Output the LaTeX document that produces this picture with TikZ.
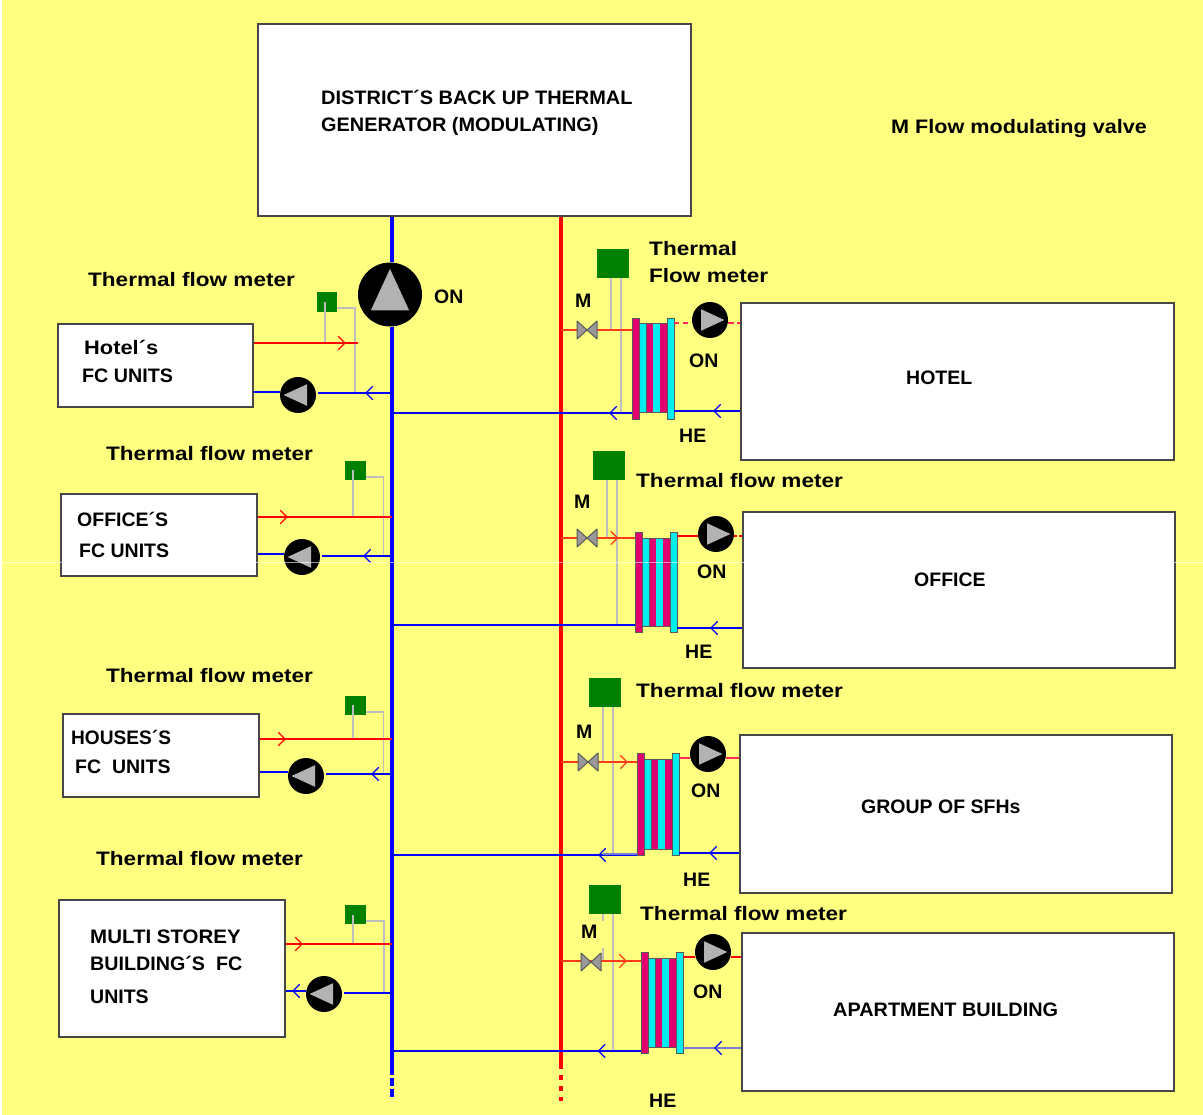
\documentclass[tikz,border=0pt]{standalone}
\usepackage{graphicx}
\usepackage{fontspec}
\setmainfont{Liberation Sans}
\definecolor{bgyellow}{HTML}{FFFF80}
\definecolor{hemag}{HTML}{E0006E}
\definecolor{hecya}{HTML}{00EEEE}
\definecolor{metergreen}{HTML}{008000}
\definecolor{wiregray}{HTML}{BEBEBE}
\definecolor{hotline}{HTML}{FF3A1A}
\definecolor{pinkline}{HTML}{FF2A5A}
\definecolor{mixline}{HTML}{7A7AD8}
\tikzset{
  unitbox/.style={draw=black!72,line width=1.4pt,fill=white,rectangle,inner sep=0pt},
  lbl/.style={anchor=base west,inner sep=0pt,font=\fontsize{19.5}{20}\selectfont\bfseries,text=black},
  pumpn/.style={circle,fill=black,inner sep=0pt,draw=none},
  pumptri/.style={fill=black!30},
  meter/.style={rectangle,fill=metergreen,inner sep=0pt,draw=none},
  wire/.style={draw=wiregray,line width=1.5pt},
  cold/.style={draw=blue,line width=2.1pt},
  hot/.style={draw=red,line width=1.9pt},
  hotv/.style={draw=hotline,line width=2pt},
  pinkdash/.style={draw=pinkline,line width=1.8pt},
  mixed/.style={draw=mixline,line width=2.8pt},
  bus/.style={line width=3.2pt},
  chevron/.style={line width=1.2pt,line cap=round},
  plate/.style={rectangle,inner sep=0pt,draw=black!65,line width=.8pt},
  valvetri/.style={fill=black!40,draw=black!65,line width=1pt,line join=round},
}
% name, left, top, right, bottom
\newcommand\ubox[5]{\node[unitbox,minimum width={(#4-#2)*1pt},minimum height={(#5-#3)*1pt}] (#1) at ({(#2+#4)/2},{(#3+#5)/2}) {};}
% [x stretch], name, x, y, text
\newcommand\tx[5][1]{\node[lbl] (#2) at (#3,#4+7.5) {\scalebox{#1}[1]{#5}};}
% name, x, y, radius, angle
\newcommand\pump[5]{\node[pumpn,minimum size={2*#4*1pt}] (#1) at (#2,#3) {};
  \fill[pumptri,shift={(#1.center)},rotate=#5] (0.8*#4,0) -- (-0.5*#4,0.6*#4) -- (-0.5*#4,-0.6*#4) -- cycle;}
% name, left, top, right, bottom
\newcommand\meterbox[5]{\node[meter,minimum width={(#4-#2)*1pt},minimum height={(#5-#3)*1pt}] (#1) at ({(#2+#4)/2},{(#3+#5)/2}) {};}
% x, y, colour, angle
\newcommand\chev[4]{\draw[chevron,draw=#3,shift={(#1,#2)},rotate=#4] (-3,6.5) -- (3.5,0) -- (-3,-6.5);}
% name, x, y
\newcommand\valve[3]{\coordinate (#1) at (#2,#3);
  \filldraw[valvetri] (#2,#3) -- (#2-10,#3-9) -- (#2-10,#3+9) -- cycle;
  \filldraw[valvetri] (#2,#3) -- (#2+10,#3-9) -- (#2+10,#3+9) -- cycle;}
% name, left x, plate top, plate bottom
\newcommand\hex[4]{%
  \fill[black!65] (#2+7,#3+5.5) rectangle (#2+35,#4-5.5);
  \fill[hecya] (#2+7.5,#3+6.5) rectangle (#2+14.2,#4-6.5);
  \fill[hemag] (#2+14.8,#3+6.5) rectangle (#2+20.7,#4-6.5);
  \fill[hecya] (#2+21.3,#3+6.5) rectangle (#2+27.7,#4-6.5);
  \fill[hemag] (#2+28.3,#3+6.5) rectangle (#2+35,#4-6.5);
  \node[plate,fill=hemag,minimum width=7pt,minimum height={(#4-#3)*1pt}] (#1L) at (#2+3.5,{(#3+#4)/2}) {};
  \node[plate,fill=hecya,minimum width=7pt,minimum height={(#4-#3)*1pt}] (#1R) at (#2+38.5,{(#3+#4)/2}) {};}
\begin{document}
\begin{tikzpicture}[x=1pt,y=-1pt]
\useasboundingbox (0,0) rectangle (1203,1115);
\fill[bgyellow] (0,0) rectangle (1203,1115);
\fill[white] (0,0) rectangle (2,1115);

% generator and buses
\ubox{gen}{258}{24}{691}{216}
\coordinate (busB) at (392,1067);
\coordinate (busBend) at (392,1099);
\coordinate (busR) at (561,1067);
\coordinate (busRend) at (561,1101);
\pump{mainp}{390}{294.5}{32}{90}
\draw[cold,bus] (gen.south -| busB) -- (mainp.north -| busB);
\draw[cold,bus] (mainp.south -| busB) -- (busB);
\draw[cold,bus,dash pattern=on 8pt off 3pt] (busB) -- (busBend);
\draw[hot,bus] (gen.south -| busR) -- (busR);
\draw[hot,bus,dash pattern=on 5pt off 6pt] ([yshift=3pt]busR) -- (busRend);

% left: hotel FC
\ubox{fcA}{58}{324}{253}{407}
\pump{pA}{298}{395}{18}{180}
\meterbox{mA}{317}{292}{337}{312}
\coordinate (rA) at (358,343);
\coordinate (bA) at (392,393);
\draw[wire] (325,302) -- (325,343);
\draw[wire] (mA.east |- 0,308) -| (355,393);
\draw[hot] (fcA.east |- rA) -- (rA);
\draw[cold] (fcA.east |- 0,392) -- (pA.west |- 0,392);
\draw[cold] ([xshift=2pt]pA.east |- bA) -- (bA);
\chev{341.5}{343}{red}{0}
\chev{369.5}{393}{blue}{180}

% left: office FC
\ubox{fcB}{61}{494}{257}{576}
\pump{pB}{302}{557}{18}{180}
\meterbox{mB}{345}{461}{366}{480}
\coordinate (rB) at (392,517);
\coordinate (bB) at (392,556);
\draw[wire] (353,470) -- (353,517);
\draw[wire] (mB.east |- 0,477) -| (383.5,556);
\draw[hot] (fcB.east |- rB) -- (rB);
\draw[cold] (fcB.east |- 0,554) -- (pB.west |- 0,554);
\draw[cold] ([xshift=2pt]pB.east |- bB) -- (bB);
\chev{283.5}{517}{red}{0}
\chev{367.5}{556}{blue}{180}

% left: houses FC
\ubox{fcC}{63}{714}{259}{797}
\pump{pC}{306}{776}{18}{180}
\meterbox{mC}{345}{696}{366}{715}
\coordinate (rC) at (392,739);
\coordinate (bC) at (392,774);
\draw[wire] (353,705) -- (353,739);
\draw[wire] (mC.east |- 0,712) -| (383.5,774);
\draw[hot] (fcC.east |- rC) -- (rC);
\draw[cold] (fcC.east |- 0,772) -- (pC.west |- 0,772);
\draw[cold] ([xshift=2pt]pC.east |- bC) -- (bC);
\chev{281.5}{739}{red}{0}
\chev{375.5}{774}{blue}{180}

% left: multi storey FC
\ubox{fcD}{59}{900}{285}{1037}
\pump{pD}{324}{994}{18}{180}
\meterbox{mD}{345}{905}{366}{924}
\coordinate (rD) at (392,944);
\coordinate (bD) at (392,993);
\draw[wire] (353,915) -- (353,944);
\draw[wire] (mD.east |- 0,921) -| (384,993);
\draw[hot] (fcD.east |- rD) -- (rD);
\draw[cold] (fcD.east |- 0,991) -- (pD.west |- 0,991);
\draw[cold] ([xshift=2pt]pD.east |- bD) -- (bD);
\chev{298.5}{944}{red}{0}
\chev{296.5}{991}{blue}{180}

% right: hotel
\ubox{uA}{741}{303}{1174}{460}
\hex{hA}{632}{318}{419}
\meterbox{mrA}{597}{249}{629}{278}
\pump{prA}{710}{320}{18}{0}
\draw[wire] (611,278) -- (611,330);
\draw[wire] (621,278) -- (621,413);
\draw[hotv] (busR |- 0,330) -- (hAL.west |- 0,330);
\valve{vA}{587}{330}
\draw[pinkdash,dash pattern=on 5pt off 4pt] (hAR.east |- 0,323) -- (prA.west |- 0,323);
\draw[pinkdash,dash pattern=on 6pt off 3pt] (prA.east |- 0,323) -- (uA.west |- 0,323);
\draw[cold] (busB |- 0,413) -- (hAL.west |- 0,413);
\draw[cold] (hAR.east |- 0,411) -- (uA.west |- 0,411);
\chev{613.5}{413}{blue}{180}
\chev{717.5}{411}{blue}{180}

% right: office
\ubox{uB}{743}{512}{1175}{668}
\hex{hB}{635}{532}{632}
\meterbox{mrB}{593}{451}{625}{480}
\pump{prB}{716}{534}{18}{0}
\draw[wire] (607,480) -- (607,538);
\draw[wire] (617,480) -- (617,625);
\draw[hotv] (busR |- 0,538) -- (hBL.west |- 0,538);
\valve{vB}{587}{538}
\draw[hot] (hBR.east |- 0,536) -- (prB.west |- 0,536);
\draw[hot,dash pattern=on 3pt off 2pt] (prB.east |- 0,536) -- (uB.west |- 0,536);
\draw[cold] (busB |- 0,625) -- (hBL.west |- 0,625);
\draw[cold] (hBR.east |- 0,628) -- (uB.west |- 0,628);
\chev{614}{538}{hotline}{0}
\chev{714.5}{628}{blue}{180}

% right: group of SFHs
\ubox{uC}{740}{735}{1172}{893}
\hex{hC}{637}{753}{855}
\meterbox{mrC}{589}{678}{621}{707}
\pump{prC}{708}{754}{18}{0}
\draw[wire] (603,707) -- (603,762);
\draw[wire] (613,707) -- (613,853);
\draw[hotv] (busR |- 0,762) -- (hCL.west |- 0,762);
\valve{vC}{588}{762}
\draw[pinkdash] (hCR.east |- 0,758) -- (prC.west |- 0,758);
\draw[pinkdash] (prC.east |- 0,758) -- (uC.west |- 0,758);
\draw[cold] (busB |- 0,855) -- (hCL.west |- 0,855);
\draw[mixed] (603,854) -- (hCL.west |- 0,854);
\draw[cold] (hCR.east |- 0,853) -- (uC.west |- 0,853);
\chev{623.5}{762}{hotline}{0}
\chev{602.5}{855}{blue}{180}
\chev{713.5}{853}{blue}{180}

% right: apartment building
\ubox{uD}{742}{933}{1174}{1091}
\hex{hD}{641}{952}{1053}
\meterbox{mrD}{589}{885}{621}{914}
\pump{prD}{713}{952}{18}{0}
\draw[wire] (603,914) -- (603,921);
\draw[wire] (603,948) -- (603,962);
\draw[wire] (613,914) -- (613,1051);
\draw[hotv] (busR |- 0,961) -- (hDL.west |- 0,961);
\valve{vD}{591}{962}
\draw[hot,line width=2.4pt] (hDR.east |- 0,957) -- (prD.west |- 0,957);
\draw[hot] (prD.east |- 0,957) -- (uD.west |- 0,957);
\draw[cold] (busB |- 0,1051) -- (hDL.west |- 0,1051);
\draw[mixed] (hDR.east |- 0,1048) -- (uD.west |- 0,1048);
\chev{622.5}{961}{hotline}{0}
\chev{602}{1051}{blue}{180}
\chev{718.5}{1048}{blue}{180}

% scan line across the picture
\fill[white,opacity=.6] (0,562.2) rectangle (1203,563.2);

% labels
\tx[1.023]{t01}{321}{97}{DISTRICT´S BACK UP THERMAL}
\tx[1.02]{t02}{321}{124}{GENERATOR (MODULATING)}
\tx[1.108]{t03}{891}{126}{M Flow modulating valve}
\tx[1.156]{t04}{88}{279}{Thermal flow meter}
\tx[1.12]{t05}{84}{347}{Hotel´s}
\tx[1.01]{t06}{82}{375}{FC UNITS}
\tx[1.156]{t07}{106}{453}{Thermal flow meter}
\tx{t08}{77}{519}{OFFICE´S}
\tx{t09}{79}{550}{FC UNITS}
\tx[1.156]{t10}{106}{675}{Thermal flow meter}
\tx[.98]{t11}{71}{737}{HOUSES´S}
\tx{t12}{75}{766}{FC\ \ UNITS}
\tx[1.156]{t13}{96}{858}{Thermal flow meter}
\tx[1.05]{t14}{90}{936}{MULTI STOREY}
\tx[1.01]{t15}{90}{963}{BUILDING´S\ \ FC}
\tx{t16}{90}{996}{UNITS}
\tx{t17}{434}{296}{ON}
\tx[1.158]{t18}{649}{248}{Thermal}
\tx[1.155]{t19}{649}{275}{Flow meter}
\tx[1.156]{t20}{636}{480}{Thermal flow meter}
\tx[1.156]{t21}{636}{690}{Thermal flow meter}
\tx[1.156]{t22}{640}{913}{Thermal flow meter}
\tx{t23}{575}{300}{M}
\tx{t24}{574}{501}{M}
\tx{t25}{576}{731}{M}
\tx{t26}{581}{931}{M}
\tx{t27}{689}{360}{ON}
\tx{t28}{697}{571}{ON}
\tx{t29}{691}{790}{ON}
\tx{t30}{693}{991}{ON}
\tx{t31}{679}{435}{HE}
\tx{t32}{685}{651}{HE}
\tx{t33}{683}{879}{HE}
\tx{t34}{649}{1100}{HE}
\tx{t35}{906}{377}{HOTEL}
\tx{t36}{914}{579}{OFFICE}
\tx{t37}{861}{806}{GROUP OF SFHs}
\tx[1.02]{t38}{833}{1009}{APARTMENT BUILDING}
\end{tikzpicture}
\end{document}
